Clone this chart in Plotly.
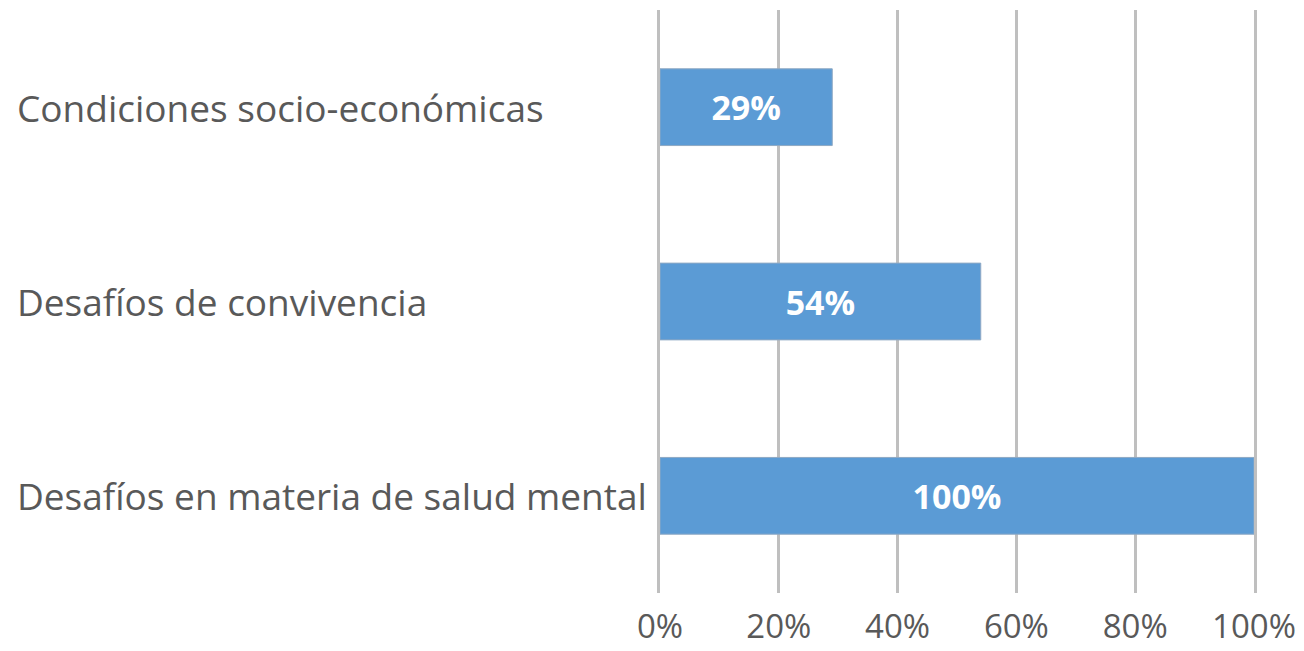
import plotly.graph_objects as go

categories = ["Desafíos en materia de salud mental", "Desafíos de convivencia", "Condiciones socio-económicas"]
values = [100, 54, 29]
value_labels = ["100%", "54%", "29%"]
tick_vals = [0, 20, 40, 60, 80, 100]
tick_text = ["0%", "20%", "40%", "60%", "80%", "100%"]

# page body has an 8px default margin; compensate so the picture lines up
OFF = 8
W, H = 1304 - OFF, 651 - OFF
L, T = 660 - OFF, 10 - OFF
plot_w = 594
plot_h = 583
R = W - L - plot_w
B = H - T - plot_h

GRID = "#BFBFBF"

fig = go.Figure()
fig.add_trace(go.Bar(
    y=categories, x=values, orientation="h",
    marker=dict(color="#5B9BD5", line=dict(color="#8FA9C4", width=1)),
    width=0.395,
    text=value_labels, textposition="inside", insidetextanchor="middle",
    textfont=dict(family="Open Sans", size=34, color="white", weight="bold"),
    hoverinfo="skip", cliponaxis=False,
))

for c in categories:
    fig.add_annotation(
        x=(15 - 660) / plot_w, xref="paper", y=c, yref="y",
        text=c, showarrow=False, xanchor="left", yanchor="middle",
        font=dict(family="Open Sans", size=37, color="#595959"),
    )

fig.update_layout(
    width=W, height=H,
    margin=dict(l=L, r=R, t=T, b=B, autoexpand=False),
    plot_bgcolor="white", paper_bgcolor="white",
    showlegend=False,
    xaxis=dict(
        range=[0, 100], tickvals=tick_vals, ticktext=tick_text,
        showgrid=True, gridcolor=GRID, gridwidth=3,
        zeroline=False, showline=False, automargin=False,
        tickfont=dict(family="Open Sans", size=33, color="#595959"),
        ticks="", ticklabelstandoff=11, fixedrange=True,
    ),
    yaxis=dict(
        categoryorder="array", categoryarray=categories,
        range=[-0.5, 2.5], showticklabels=False, showgrid=False,
        zeroline=False, showline=True, mirror=True,
        linecolor=GRID, linewidth=3, layer="below traces",
        fixedrange=True, automargin=False,
    ),
)

fig.write_html("out.html")
